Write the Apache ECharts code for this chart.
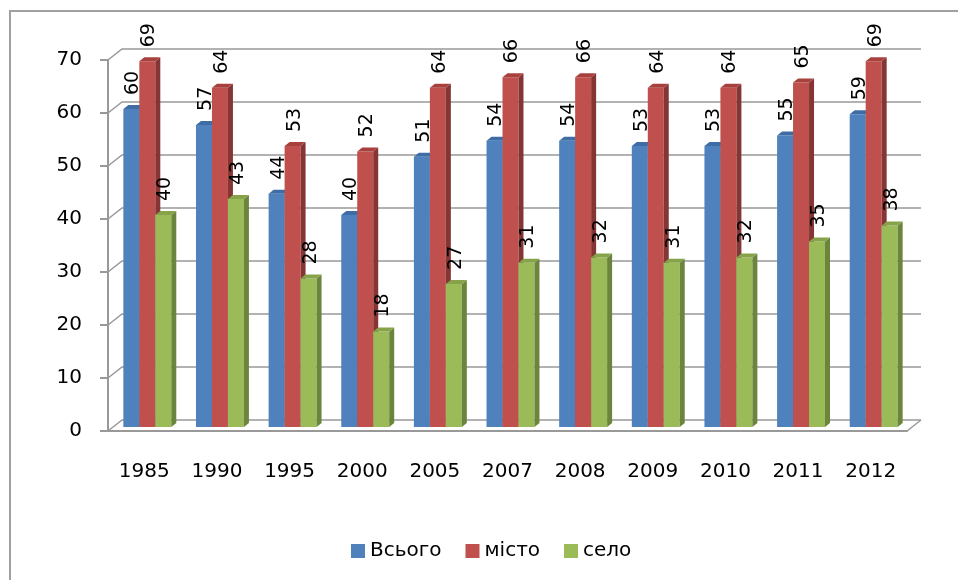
<!DOCTYPE html>
<html>
<head>
<meta charset="utf-8">
<script src="https://cdn.jsdelivr.net/npm/echarts@6/dist/echarts.min.js"></script>
<style>
  html, body { margin: 0; background: #fff; }
  #chart { width: 958px; height: 580px; }
</style>
</head>
<body>
<div id="chart"></div>
<script>
const years = ['1985', '1990', '1995', '2000', '2005', '2007', '2008', '2009', '2010', '2011', '2012']
const total = [60, 57, 44, 40, 51, 54, 54, 53, 53, 55, 59]
const city = [69, 64, 53, 52, 64, 66, 66, 64, 64, 65, 69]
const village = [40, 43, 28, 18, 27, 31, 32, 31, 32, 35, 38]
const seriesNames = ['Всього', 'місто', 'село']
const yTicks = [0, 10, 20, 30, 40, 50, 60, 70]

const FONT = 'DejaVu Sans'
const faces = [
  { front: '#4F81BD', top: '#3E6DA6', side: '#375A87' },
  { front: '#C0504D', top: '#A8403D', side: '#853634' },
  { front: '#9BBB59', top: '#86A34A', side: '#6C853D' }
]
// depth of the back wall and of each bar (3d look)
const DX = 14, DY = 11
const BX = 5, BY = 4
// bars stand a little behind the front axis
const SHIFT_Y = -4
const LABEL_GAP = 14

function barRenderer(k) {
  return function (params, api) {
    const idx = api.value(0)
    const v = api.value(1)
    const base = api.coord([idx, 0])
    const y0 = base[1] + SHIFT_Y
    const top = api.coord([idx, v])[1] + SHIFT_Y
    const w = api.size([1, 0])[0] * 0.22
    const x0 = base[0] - w * 1.5 + 3 + k * w
    const f = faces[k]
    return {
      type: 'group',
      children: [
        {
          type: 'rect',
          shape: { x: x0, y: top, width: w, height: y0 - top },
          style: { fill: f.front }
        },
        {
          type: 'polygon',
          shape: { points: [[x0 + w, top], [x0 + w + BX, top - BY], [x0 + w + BX, y0 - BY], [x0 + w, y0]] },
          style: { fill: f.side }
        },
        {
          type: 'polygon',
          shape: { points: [[x0, top], [x0 + BX, top - BY], [x0 + w + BX, top - BY], [x0 + w, top]] },
          style: { fill: f.top }
        },
        {
          type: 'text',
          x: x0 + w / 2 + 2,
          y: top - LABEL_GAP,
          rotation: Math.PI / 2,
          z2: 100,
          style: {
            text: String(v),
            align: 'left',
            verticalAlign: 'middle',
            fill: '#000',
            font: '19px "' + FONT + '"'
          }
        }
      ]
    }
  }
}

function wallRenderer(params, api) {
  const cs = params.coordSys
  const v = api.value(1)
  const y = api.coord([0, v])[1]
  const L = cs.x, R = cs.x + cs.width
  const children = [{
    type: 'polyline',
    shape: { points: [[L, y], [L + DX, y - DY], [R + DX, y - DY]] },
    style: { stroke: '#999999', lineWidth: 1.5, fill: null }
  }]
  if (v === 0) {
    children.push({
      type: 'line',
      shape: { x1: R, y1: y, x2: R + DX, y2: y - DY },
      style: { stroke: '#999999', lineWidth: 1.5 }
    })
  }
  return { type: 'group', children: children }
}

const values = [total, city, village]
const series = [{
  type: 'custom',
  name: 'wall',
  silent: true,
  z: 1,
  renderItem: wallRenderer,
  data: yTicks.map(v => [0, v]),
  encode: { x: 0, y: 1 }
}]
values.forEach((arr, k) => {
  series.push({
    type: 'custom',
    name: seriesNames[k],
    z: 2,
    itemStyle: { color: faces[k].front },
    renderItem: barRenderer(k),
    data: arr.map((v, i) => [i, v]),
    encode: { x: 0, y: 1 }
  })
})

const chart = echarts.init(document.getElementById('chart'))
chart.setOption({
  animation: false,
  backgroundColor: '#fff',
  textStyle: { fontFamily: FONT },
  graphic: [{
    type: 'rect',
    shape: { x: 10, y: 11, width: 1000, height: 700 },
    style: { fill: null, stroke: '#a0a0a0', lineWidth: 2 },
    silent: true
  }],
  grid: { left: 108, right: 51, top: 60, bottom: 149 },
  legend: {
    data: seriesNames,
    left: 346,
    top: 536,
    icon: 'rect',
    itemWidth: 14,
    itemHeight: 14,
    itemGap: 24,
    textStyle: { fontSize: 20, color: '#000', fontFamily: FONT }
  },
  xAxis: {
    type: 'category',
    data: years,
    axisLine: { lineStyle: { color: '#999999', width: 2 } },
    axisTick: { length: 9, lineStyle: { color: '#999999', width: 2 } },
    axisLabel: { fontSize: 20, color: '#000', margin: 31, fontFamily: FONT },
    splitLine: { show: false }
  },
  yAxis: {
    type: 'value',
    min: 0,
    max: 70,
    interval: 10,
    axisLine: { show: true, lineStyle: { color: '#999999', width: 2 } },
    axisTick: { show: true, length: 8, lineStyle: { color: '#999999', width: 2 } },
    axisLabel: { fontSize: 20, color: '#000', margin: 26, fontFamily: FONT },
    splitLine: { show: false }
  },
  series: series
})
</script>
</body>
</html>
